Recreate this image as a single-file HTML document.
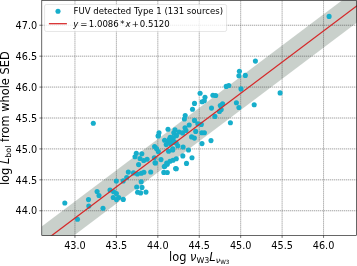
<!DOCTYPE html>
<html><head><meta charset="utf-8"><title>plot</title>
<style>
html,body{margin:0;padding:0;background:#fff;}
svg{display:block;}
text{font-family:"DejaVu Sans", "Liberation Sans", sans-serif;fill:#000;}
</style></head><body>
<svg width="357" height="266" viewBox="0 0 357 266">
<rect width="357" height="266" fill="#fff"/>
<defs><clipPath id="ax"><rect x="41.8" y="0.5" width="314.9" height="235.0"/></clipPath></defs>

<g clip-path="url(#ax)">
<polygon points="33.51,232.56 364.99,-16.93 364.99,16.46 33.51,265.96" fill="#788a7d" fill-opacity="0.4"/>
<g stroke="#3a3a3a" stroke-width="0.6" stroke-dasharray="1.3 0.7" fill="none" opacity="0.78">
<line x1="74.95" y1="0.5" x2="74.95" y2="235.5"/>
<line x1="116.38" y1="0.5" x2="116.38" y2="235.5"/>
<line x1="157.82" y1="0.5" x2="157.82" y2="235.5"/>
<line x1="199.25" y1="0.5" x2="199.25" y2="235.5"/>
<line x1="240.68" y1="0.5" x2="240.68" y2="235.5"/>
<line x1="282.12" y1="0.5" x2="282.12" y2="235.5"/>
<line x1="323.55" y1="0.5" x2="323.55" y2="235.5"/>
<line x1="41.8" y1="210.76" x2="356.7" y2="210.76"/>
<line x1="41.8" y1="179.84" x2="356.7" y2="179.84"/>
<line x1="41.8" y1="148.92" x2="356.7" y2="148.92"/>
<line x1="41.8" y1="118.00" x2="356.7" y2="118.00"/>
<line x1="41.8" y1="87.08" x2="356.7" y2="87.08"/>
<line x1="41.8" y1="56.16" x2="356.7" y2="56.16"/>
<line x1="41.8" y1="25.24" x2="356.7" y2="25.24"/>
</g>
<g fill="#17aecb">
<circle cx="64.8" cy="203.0" r="2.55"/>
<circle cx="88.5" cy="199.6" r="2.55"/>
<circle cx="88.8" cy="206.1" r="2.55"/>
<circle cx="97.1" cy="191.5" r="2.55"/>
<circle cx="99.0" cy="195.5" r="2.55"/>
<circle cx="103.0" cy="208.2" r="2.55"/>
<circle cx="110.0" cy="190.0" r="2.55"/>
<circle cx="77.5" cy="219.2" r="2.55"/>
<circle cx="113.6" cy="191.8" r="2.55"/>
<circle cx="116.4" cy="193.5" r="2.55"/>
<circle cx="113.2" cy="197.5" r="2.55"/>
<circle cx="116.5" cy="199.6" r="2.55"/>
<circle cx="118.7" cy="197.5" r="2.55"/>
<circle cx="123.3" cy="199.4" r="2.55"/>
<circle cx="116.3" cy="181.0" r="2.55"/>
<circle cx="123.2" cy="180.9" r="2.55"/>
<circle cx="126.7" cy="177.6" r="2.55"/>
<circle cx="128.3" cy="172.1" r="2.55"/>
<circle cx="133.5" cy="172.9" r="2.55"/>
<circle cx="137.4" cy="174.0" r="2.55"/>
<circle cx="141.3" cy="173.3" r="2.55"/>
<circle cx="143.9" cy="172.3" r="2.55"/>
<circle cx="150.7" cy="172.0" r="2.55"/>
<circle cx="138.6" cy="164.6" r="2.55"/>
<circle cx="141.2" cy="181.8" r="2.55"/>
<circle cx="136.7" cy="187.0" r="2.55"/>
<circle cx="142.0" cy="187.4" r="2.55"/>
<circle cx="137.6" cy="192.2" r="2.55"/>
<circle cx="140.6" cy="192.9" r="2.55"/>
<circle cx="146.0" cy="192.1" r="2.55"/>
<circle cx="163.8" cy="172.4" r="2.55"/>
<circle cx="167.3" cy="172.5" r="2.55"/>
<circle cx="164.3" cy="166.6" r="2.55"/>
<circle cx="167.3" cy="164.3" r="2.55"/>
<circle cx="175.6" cy="168.6" r="2.55"/>
<circle cx="155.5" cy="163.0" r="2.55"/>
<circle cx="136.3" cy="153.2" r="2.55"/>
<circle cx="135.0" cy="156.7" r="2.55"/>
<circle cx="141.8" cy="153.7" r="2.55"/>
<circle cx="140.0" cy="158.5" r="2.55"/>
<circle cx="143.7" cy="160.5" r="2.55"/>
<circle cx="147.1" cy="159.3" r="2.55"/>
<circle cx="154.6" cy="146.5" r="2.55"/>
<circle cx="156.5" cy="148.6" r="2.55"/>
<circle cx="158.3" cy="151.5" r="2.55"/>
<circle cx="154.3" cy="157.8" r="2.55"/>
<circle cx="155.0" cy="162.7" r="2.55"/>
<circle cx="161.0" cy="159.6" r="2.55"/>
<circle cx="158.4" cy="135.8" r="2.55"/>
<circle cx="164.6" cy="140.2" r="2.55"/>
<circle cx="168.3" cy="141.5" r="2.55"/>
<circle cx="173.2" cy="138.4" r="2.55"/>
<circle cx="170.5" cy="143.8" r="2.55"/>
<circle cx="174.6" cy="142.4" r="2.55"/>
<circle cx="168.6" cy="151.2" r="2.55"/>
<circle cx="172.7" cy="150.0" r="2.55"/>
<circle cx="166.7" cy="163.0" r="2.55"/>
<circle cx="170.0" cy="161.2" r="2.55"/>
<circle cx="173.0" cy="160.3" r="2.55"/>
<circle cx="165.0" cy="166.0" r="2.55"/>
<circle cx="185.2" cy="115.6" r="2.55"/>
<circle cx="184.4" cy="119.0" r="2.55"/>
<circle cx="194.5" cy="120.4" r="2.55"/>
<circle cx="189.2" cy="125.0" r="2.55"/>
<circle cx="185.0" cy="127.7" r="2.55"/>
<circle cx="197.8" cy="123.8" r="2.55"/>
<circle cx="201.3" cy="124.4" r="2.55"/>
<circle cx="168.0" cy="129.3" r="2.55"/>
<circle cx="175.0" cy="129.9" r="2.55"/>
<circle cx="173.8" cy="132.8" r="2.55"/>
<circle cx="179.0" cy="132.0" r="2.55"/>
<circle cx="182.6" cy="132.9" r="2.55"/>
<circle cx="186.0" cy="130.5" r="2.55"/>
<circle cx="176.5" cy="135.6" r="2.55"/>
<circle cx="195.7" cy="131.4" r="2.55"/>
<circle cx="201.8" cy="132.8" r="2.55"/>
<circle cx="204.4" cy="132.8" r="2.55"/>
<circle cx="191.6" cy="136.9" r="2.55"/>
<circle cx="194.4" cy="138.1" r="2.55"/>
<circle cx="170.2" cy="137.3" r="2.55"/>
<circle cx="172.8" cy="137.5" r="2.55"/>
<circle cx="176.2" cy="143.0" r="2.55"/>
<circle cx="183.1" cy="147.0" r="2.55"/>
<circle cx="202.0" cy="143.6" r="2.55"/>
<circle cx="172.8" cy="148.9" r="2.55"/>
<circle cx="188.5" cy="150.0" r="2.55"/>
<circle cx="159.0" cy="132.8" r="2.55"/>
<circle cx="158.1" cy="136.0" r="2.55"/>
<circle cx="177.8" cy="145.7" r="2.55"/>
<circle cx="182.8" cy="155.9" r="2.55"/>
<circle cx="192.0" cy="157.8" r="2.55"/>
<circle cx="186.5" cy="163.4" r="2.55"/>
<circle cx="176.3" cy="158.8" r="2.55"/>
<circle cx="176.3" cy="168.8" r="2.55"/>
<circle cx="211.0" cy="140.6" r="2.55"/>
<circle cx="226.2" cy="86.4" r="2.55"/>
<circle cx="228.8" cy="85.5" r="2.55"/>
<circle cx="241.0" cy="88.9" r="2.55"/>
<circle cx="200.1" cy="93.3" r="2.55"/>
<circle cx="212.9" cy="95.3" r="2.55"/>
<circle cx="215.7" cy="95.5" r="2.55"/>
<circle cx="205.0" cy="97.3" r="2.55"/>
<circle cx="204.3" cy="100.7" r="2.55"/>
<circle cx="202.1" cy="101.7" r="2.55"/>
<circle cx="236.4" cy="102.7" r="2.55"/>
<circle cx="222.6" cy="103.8" r="2.55"/>
<circle cx="220.3" cy="105.6" r="2.55"/>
<circle cx="238.9" cy="107.5" r="2.55"/>
<circle cx="211.5" cy="108.1" r="2.55"/>
<circle cx="221.2" cy="109.6" r="2.55"/>
<circle cx="219.4" cy="111.5" r="2.55"/>
<circle cx="254.2" cy="104.8" r="2.55"/>
<circle cx="214.9" cy="116.4" r="2.55"/>
<circle cx="194.5" cy="103.4" r="2.55"/>
<circle cx="192.5" cy="109.3" r="2.55"/>
<circle cx="230.4" cy="122.7" r="2.55"/>
<circle cx="255.4" cy="61.1" r="2.55"/>
<circle cx="239.4" cy="71.2" r="2.55"/>
<circle cx="238.9" cy="75.8" r="2.55"/>
<circle cx="245.3" cy="75.4" r="2.55"/>
<circle cx="280.1" cy="92.9" r="2.55"/>
<circle cx="329.1" cy="16.4" r="2.55"/>
<circle cx="93.3" cy="123.3" r="2.55"/>
<circle cx="166.2" cy="144.6" r="2.55"/>
<circle cx="172.5" cy="141.3" r="2.55"/>
<circle cx="169.4" cy="139.3" r="2.55"/>
</g>
<line x1="33.51" y1="249.26" x2="364.99" y2="-0.24" stroke="#d62728" stroke-width="1.25"/>
</g>
<rect x="41.8" y="0.5" width="314.9" height="235.0" fill="none" stroke="#000" stroke-width="0.6"/>
<g stroke="#000" stroke-width="0.55">
<line x1="74.95" y1="235.5" x2="74.95" y2="237.9"/>
<line x1="41.8" y1="210.76" x2="39.4" y2="210.76"/>
<line x1="116.38" y1="235.5" x2="116.38" y2="237.9"/>
<line x1="41.8" y1="179.84" x2="39.4" y2="179.84"/>
<line x1="157.82" y1="235.5" x2="157.82" y2="237.9"/>
<line x1="41.8" y1="148.92" x2="39.4" y2="148.92"/>
<line x1="199.25" y1="235.5" x2="199.25" y2="237.9"/>
<line x1="41.8" y1="118.00" x2="39.4" y2="118.00"/>
<line x1="240.68" y1="235.5" x2="240.68" y2="237.9"/>
<line x1="41.8" y1="87.08" x2="39.4" y2="87.08"/>
<line x1="282.12" y1="235.5" x2="282.12" y2="237.9"/>
<line x1="41.8" y1="56.16" x2="39.4" y2="56.16"/>
<line x1="323.55" y1="235.5" x2="323.55" y2="237.9"/>
<line x1="41.8" y1="25.24" x2="39.4" y2="25.24"/>
</g>
<g font-size="9.7">
<text x="74.95" y="248.6" text-anchor="middle">43.0</text>
<text x="37.2" y="214.46" text-anchor="end">44.0</text>
<text x="116.38" y="248.6" text-anchor="middle">43.5</text>
<text x="37.2" y="183.54" text-anchor="end">44.5</text>
<text x="157.82" y="248.6" text-anchor="middle">44.0</text>
<text x="37.2" y="152.62" text-anchor="end">45.0</text>
<text x="199.25" y="248.6" text-anchor="middle">44.5</text>
<text x="37.2" y="121.70" text-anchor="end">45.5</text>
<text x="240.68" y="248.6" text-anchor="middle">45.0</text>
<text x="37.2" y="90.78" text-anchor="end">46.0</text>
<text x="282.12" y="248.6" text-anchor="middle">45.5</text>
<text x="37.2" y="59.86" text-anchor="end">46.5</text>
<text x="323.55" y="248.6" text-anchor="middle">46.0</text>
<text x="37.2" y="28.94" text-anchor="end">47.0</text>
</g>
<text x="169.0" y="260.9" font-size="11.4">log <tspan font-style="italic">ν</tspan><tspan font-size="7.98" dy="1.7">W3</tspan><tspan font-style="italic" dy="-1.7">L</tspan><tspan font-size="7.98" font-style="italic" dy="1.7">ν</tspan><tspan font-size="5.70" dy="1.2">W3</tspan></text>
<text transform="translate(9.2,185.1) rotate(-90)" font-size="11.4">log <tspan font-style="italic">L</tspan><tspan font-size="7.98" dy="1.7">bol</tspan><tspan dy="-1.7"> from whole SED</tspan></text>
<rect x="44.6" y="4.5" width="182" height="27" rx="1.8" ry="1.8" fill="#fff" fill-opacity="0.8" stroke="#ccc" stroke-opacity="0.8" stroke-width="0.6"/>
<circle cx="58" cy="11.2" r="2.55" fill="#17aecb"/>
<line x1="48.9" y1="23.7" x2="66.9" y2="23.7" stroke="#d62728" stroke-width="1.25"/>
<text x="73.5" y="14.1" font-size="8.55">FUV detected Type 1 (131 sources)</text>
<text y="26.8" font-size="8.55"><tspan x="73.3" font-style="italic">y</tspan><tspan x="80.3">=</tspan><tspan x="88.8">1.0086</tspan><tspan x="120.3">*</tspan><tspan x="125.5" font-style="italic">x</tspan><tspan x="131.8">+</tspan><tspan x="139.8">0.5120</tspan></text>
</svg></body></html>
